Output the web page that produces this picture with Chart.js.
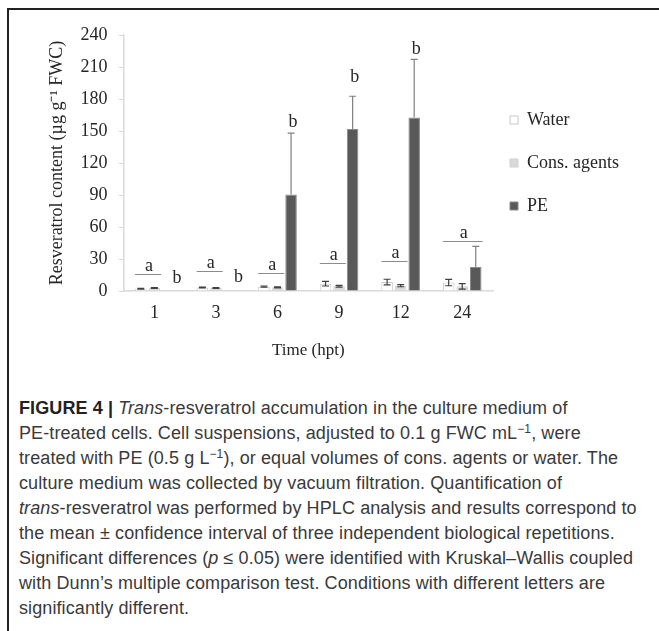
<!DOCTYPE html>
<html>
<head>
<meta charset="utf-8">
<script src="https://cdn.jsdelivr.net/npm/chart.js@4.4.1/dist/chart.umd.min.js"></script>
<style>
  body { margin: 0; background: #fff; width: 659px; height: 631px; overflow: hidden; position: relative; }
  #frameTop { position: absolute; left: 8px; top: 8px; width: 651px; height: 2px; background: #222; }
  #frameLeft { position: absolute; left: 7px; top: 8px; width: 2px; height: 623px; background: #222; }
  #chartBox { position: absolute; left: 0; top: 0; width: 659px; height: 380px; }
  #caption {
    position: absolute; left: 19px; top: 396px;
    font-family: "Liberation Sans", Arial, sans-serif; font-size: 18px; line-height: 25px;
    color: #3a3a3a; white-space: nowrap; letter-spacing: 0.1px;
  }
  #caption b { color: #222; }
  #caption sup { font-size: 12px; line-height: 0; vertical-align: 6px; }
</style>
</head>
<body>
<div id="chartBox"><canvas id="chart"></canvas></div>
<div id="frameTop"></div>
<div id="frameLeft"></div>
<div id="caption">
<b>FIGURE 4 |</b> <i>Trans</i>-resveratrol accumulation in the culture medium of<br>
PE-treated cells. Cell suspensions, adjusted to 0.1 g FWC mL<sup>−1</sup>, were<br>
treated with PE (0.5 g L<sup>−1</sup>), or equal volumes of cons. agents or water. The<br>
culture medium was collected by vacuum filtration. Quantification of<br>
<i>trans</i>-resveratrol was performed by HPLC analysis and results correspond to<br>
the mean ± confidence interval of three independent biological repetitions.<br>
Significant differences (<i>p</i> ≤ 0.05) were identified with Kruskal–Wallis coupled<br>
with Dunn’s multiple comparison test. Conditions with different letters are<br>
significantly different.
</div>
<script>
// time points (hpt)
const timePoints = ["1", "3", "6", "9", "12", "24"]

// resveratrol content, µg g-1 FWC
const water = [2.2, 3.2, 4.1, 6.9, 8.4, 7.9]
const waterErr = [0.4, 0.4, 0.6, 2.2, 2.6, 3.0]
const consAgents = [2.8, 2.9, 3.5, 4.4, 5.0, 4.4]
const consErr = [0.4, 0.4, 0.5, 0.8, 1.0, 2.6]
const pe = [0, 0, 90.4, 151.8, 162.6, 22.4]
const peErr = [0, 0, 57.6, 30.8, 54.5, 19.4]

const yTicks = [0, 30, 60, 90, 120, 150, 180, 210, 240]

// significance letters: "a" over a bracket, "b" over PE
const bracketLetters = ["a", "a", "a", "a", "a", "a"]
const bracketLevels = [16, 19, 17, 26, 28, 47]
const bracketCoversPE = [false, false, false, false, false, true]
const peLetters = ["b", "b", "b", "b", "b", ""]
const peLetterLevels = [12, 13, 158, 200, 227, 0]

const serif = "'Liberation Serif', 'Times New Roman', serif"

const errorBarPlugin = {
  id: "errorBars",
  afterDatasetsDraw(chart) {
    const { ctx, scales: { y } } = chart
    ctx.save()
    chart.data.datasets.forEach((ds, di) => {
      const meta = chart.getDatasetMeta(di)
      meta.data.forEach((bar, i) => {
        const v = ds.data[i]
        const e = ds.errors[i]
        if (!e) return
        const top = y.getPixelForValue(v + e)
        const bottom = ds.oneSided ? y.getPixelForValue(v) : y.getPixelForValue(Math.max(v - e, 0))
        const half = 3.5
        ctx.strokeStyle = ds.errorColor
        ctx.lineWidth = 1.2
        ctx.beginPath()
        ctx.moveTo(bar.x, top)
        ctx.lineTo(bar.x, bottom)
        ctx.moveTo(bar.x - half, top)
        ctx.lineTo(bar.x + half, top)
        if (!ds.oneSided) {
          ctx.moveTo(bar.x - half, bottom)
          ctx.lineTo(bar.x + half, bottom)
        }
        ctx.stroke()
      })
    })
    ctx.restore()
  },
}

const letterPlugin = {
  id: "sigLetters",
  afterDatasetsDraw(chart) {
    const { ctx, scales: { y } } = chart
    const w = chart.getDatasetMeta(0).data
    const c = chart.getDatasetMeta(1).data
    const p = chart.getDatasetMeta(2).data
    ctx.save()
    ctx.font = "18px " + serif
    ctx.fillStyle = "#262626"
    ctx.textAlign = "center"
    ctx.strokeStyle = "#8c8c8c"
    ctx.lineWidth = 1
    timePoints.forEach((t, i) => {
      const left = w[i].x - w[i].width / 2
      const lastBar = bracketCoversPE[i] ? p[i] : c[i]
      const right = lastBar.x + lastBar.width / 2 + 1
      const ly = Math.round(y.getPixelForValue(bracketLevels[i])) + 0.5
      ctx.beginPath()
      ctx.moveTo(left, ly)
      ctx.lineTo(right, ly)
      ctx.stroke()
      ctx.textBaseline = "alphabetic"
      ctx.fillText(bracketLetters[i], (left + right) / 2 + 1, ly - 4)
      if (peLetters[i]) {
        ctx.textBaseline = "middle"
        const shift = pe[i] === 0 ? 9 : 2
        ctx.fillText(peLetters[i], p[i].x + shift, y.getPixelForValue(peLetterLevels[i]))
      }
    })
    ctx.restore()
  },
}

// pull the legend a little closer to the plot
const legendNudge = {
  id: "legendNudge",
  afterLayout(chart) {
    if (chart.legend) {
      chart.legend.left -= 8
      chart.legend.right -= 8
    }
  },
}

new Chart(document.getElementById("chart"), {
  type: "bar",
  data: {
    labels: timePoints,
    datasets: [
      {
        label: "Water",
        data: water,
        errors: waterErr,
        errorColor: "#404040",
        backgroundColor: "#ffffff",
        borderColor: "#c8c8c8",
        borderWidth: 1,
      },
      {
        label: "Cons. agents",
        data: consAgents,
        errors: consErr,
        errorColor: "#404040",
        backgroundColor: "#d9d9d9",
        borderColor: "#d0d0d0",
        borderWidth: 1,
      },
      {
        label: "PE",
        data: pe,
        errors: peErr,
        oneSided: true,
        errorColor: "#808080",
        backgroundColor: "#595959",
        borderColor: "#8a8a8a",
        borderWidth: 1,
      },
    ],
  },
  options: {
    responsive: true,
    maintainAspectRatio: false,
    animation: false,
    categoryPercentage: 0.66,
    barPercentage: 0.85,
    layout: { padding: { left: 46, right: 22, top: 35, bottom: 19 } },
    scales: {
      x: {
        grid: { display: false, drawTicks: false },
        border: { color: "#d9d9d9", width: 1.5 },
        ticks: { color: "#262626", font: { family: serif, size: 18 }, padding: 11 },
        title: {
          display: true,
          text: "Time (hpt)",
          color: "#262626",
          font: { family: serif, size: 17 },
          padding: { top: 6, bottom: 0 },
        },
      },
      y: {
        min: 0,
        max: 240,
        afterBuildTicks: (axis) => {
          axis.ticks = yTicks.map((v) => ({ value: v }))
        },
        grid: { drawOnChartArea: false, drawTicks: true, tickLength: 5, color: "#d9d9d9" },
        border: { color: "#d9d9d9", width: 1.5 },
        ticks: { color: "#262626", font: { family: serif, size: 18 }, padding: 11 },
        title: {
          display: true,
          text: "Resveratrol content (µg g⁻¹ FWC)",
          color: "#262626",
          font: { family: serif, size: 18 },
          padding: { top: 0, bottom: 2 },
        },
      },
    },
    plugins: {
      legend: {
        position: "right",
        fullSize: false,
        labels: {
          color: "#262626",
          font: { family: serif, size: 18 },
          boxWidth: 8,
          boxHeight: 8,
          padding: 25,
        },
      },
      tooltip: { enabled: false },
    },
  },
  plugins: [errorBarPlugin, letterPlugin, legendNudge],
})
</script>
</body>
</html>
